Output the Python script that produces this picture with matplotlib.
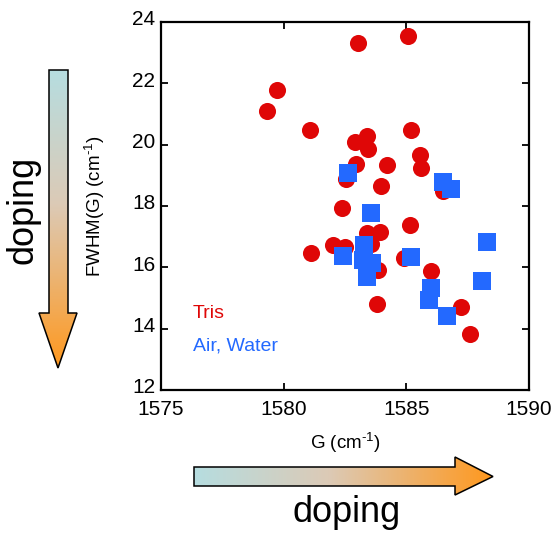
"""FWHM(G) vs G scatter with doping arrows."""

import numpy as np
import matplotlib
matplotlib.use("Agg")
import matplotlib.pyplot as plt
import matplotlib.transforms as mtransforms
from matplotlib.patches import Polygon
from matplotlib.colors import LinearSegmentedColormap

plt.rcParams['font.family'] = ['Liberation Sans', 'DejaVu Sans']
plt.rcParams['mathtext.fontset'] = 'custom'
plt.rcParams['mathtext.rm'] = 'Liberation Sans'
plt.rcParams['mathtext.it'] = 'Liberation Sans:italic'
plt.rcParams['mathtext.bf'] = 'Liberation Sans:bold'

# Tris (red circles)
TRIS_G = [1579.32, 1579.73, 1581.07, 1583.03, 1585.07, 1585.19, 1582.91, 1583.40,
          1583.44, 1582.95, 1584.21, 1585.56, 1585.60, 1582.54, 1583.97, 1582.38,
          1585.15, 1583.40, 1583.93, 1582.01, 1582.50, 1581.11, 1583.55, 1584.91,
          1586.00, 1583.85, 1583.80, 1587.23, 1587.60, 1586.50]
TRIS_FWHM = [21.10, 21.78, 20.48, 23.32, 23.54, 20.48, 20.09, 20.28,
             19.86, 19.37, 19.34, 19.66, 19.24, 18.88, 18.65, 17.94,
             17.38, 17.12, 17.15, 16.73, 16.66, 16.47, 16.76, 16.30,
             15.88, 15.90, 14.82, 14.71, 13.83, 18.50]

# Air, Water (blue squares)
AIR_G = [1582.62, 1583.56, 1582.42, 1583.28, 1583.23, 1583.60, 1583.40, 1585.19,
         1586.50, 1586.82, 1588.29, 1588.09, 1586.01, 1585.93, 1586.66]
AIR_FWHM = [19.08, 17.77, 16.37, 16.73, 16.24, 16.14, 15.69, 16.34,
            18.78, 18.55, 16.83, 15.56, 15.33, 14.94, 14.41]

XTICKS = [1575, 1580, 1585, 1590]
YTICKS = [12, 14, 16, 18, 20, 22, 24]

RED = '#df0707'
BLUE = '#2369ff'

fig = plt.figure(figsize=(5.55, 5.37), dpi=100)

# overlay in pixel coords for the doping arrows
over = fig.add_axes([0, 0, 1, 1])
over.set_xlim(0, 555)
over.set_ylim(537, 0)
over.set_axis_off()

cmap = LinearSegmentedColormap.from_list(
    'dop', [(0, '#b6dde0'), (0.45, '#dccab6'), (1, '#ff981e')])
grad = np.linspace(0, 1, 256)


def gradient_arrow(verts, extent, vertical):
    poly = Polygon(verts, closed=True, facecolor='none', edgecolor='black', lw=1.1, zorder=3)
    over.add_patch(poly)
    img = grad[:, None] if vertical else grad[None, :]
    im = over.imshow(img, cmap=cmap, extent=extent, aspect='auto', origin='upper', zorder=2)
    im.set_clip_path(poly)


# vertical arrow (left)
gradient_arrow([(49, 70), (68, 70), (68, 313), (77, 313), (58, 368), (39, 313), (49, 313)],
               (39, 77, 368, 70), True)
# horizontal arrow (bottom)
gradient_arrow([(194, 467), (455, 467), (455, 457), (493, 476.5), (455, 495), (455, 486), (194, 486)],
               (194, 493, 495, 457), False)

over.text(23, 210, 'doping', rotation=90, fontsize=26, ha='center', va='center')
over.text(347, 522, 'doping', fontsize=26, ha='center', va='baseline')

ax = fig.add_axes([161 / 555, 147 / 537, 368 / 555, 368 / 537])
ax.plot(TRIS_G, TRIS_FWHM, 'o', color=RED, ms=12.3, mew=0, zorder=3)
ax.plot(AIR_G, AIR_FWHM, 's', color=BLUE, ms=13, mew=0, zorder=4)

ax.set_xlim(1575, 1590)
ax.set_ylim(12, 24)
ax.set_xticks(XTICKS)
ax.set_yticks(YTICKS)
ax.tick_params(direction='in', top=True, right=True, length=5, width=1.3, labelsize=15)
ax.tick_params(axis='x', pad=7)
ax.tick_params(axis='y', pad=4)
for s in ax.spines.values():
    s.set_linewidth(1.6)

# y tick labels sit a little high in the original
shift = mtransforms.ScaledTranslation(0, 3 / 72, fig.dpi_scale_trans)
for lbl in ax.get_yticklabels():
    lbl.set_transform(lbl.get_transform() + shift)

ax.set_xlabel(r'G (cm$^{\text{-1}}$)', fontsize=13.5)
ax.set_ylabel(r'FWHM(G) (cm$^{\text{-1}}$)', fontsize=13.5)
ax.xaxis.set_label_coords(0.5, -0.144)
ax.xaxis.label.set_va('center')
ax.yaxis.set_label_coords(-0.179, 0.5)
ax.yaxis.label.set_va('center')

ax.text(1576.3, 14.51, 'Tris', color=RED, fontsize=14, va='center')
ax.text(1576.3, 13.44, 'Air, Water', color=BLUE, fontsize=14, va='center')

fig.savefig('out.png', dpi=100)
